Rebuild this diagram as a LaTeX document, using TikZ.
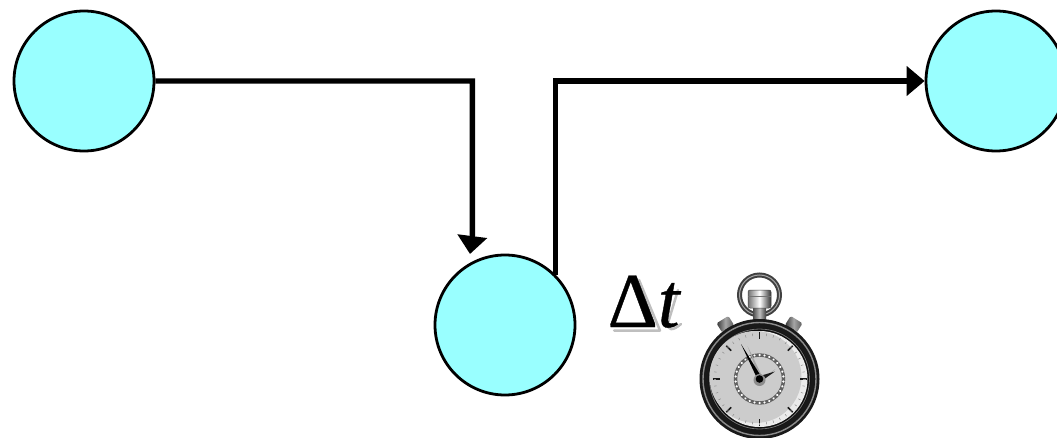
\documentclass[tikz,border=0pt]{standalone}
\usepackage{fontspec}
\setmainfont{Liberation Serif}
\newfontfamily\dtfont[FakeBold=0.5]{Liberation Serif}
\usetikzlibrary{arrows.meta,calc}
\definecolor{nodecyan}{HTML}{99FFFF}
\tikzset{
  stationnode/.style={circle,draw=black,line width=2.8pt,fill=nodecyan,minimum size=140pt,inner sep=0pt},
  flowline/.style={line width=5.4pt,draw=black,-{Triangle[length=18pt,width=29pt]}},
  deltatext/.style={inner sep=0pt,anchor=base west,font=\dtfont\fontsize{78pt}{78pt}\selectfont},
  dtshadow/.style={line width=2.5pt,black!25,line cap=round,line join=round},
  major/.style={line width=1.5pt,black!90},
  minor/.style={line width=0.5pt,black!45}
}
\begin{document}
\begin{tikzpicture}[x=1pt,y=-1pt]
\useasboundingbox (0,0) rectangle (1057,438);
\node[stationnode] (a) at (84,81) {};
\node[stationnode] (b) at (996,81) {};
\node[stationnode] (c) at (505,325) {};
\coordinate (e1) at (472.3,236);
\coordinate (e2) at (470,254);
\draw[flowline,line join=miter] (a.east) -| (e1) -- (e2);
\coordinate (s2) at (c.45);
\draw[flowline,line join=miter] (s2) |- (b.west);
% soft shadow of the delta t, drawn as shapes
\draw[dtshadow] (639,280) -- (660,330.5) -- (614,330.5);
\draw[dtshadow] (678,290) -- (668,323) .. controls (667,331) and (673,331) .. (681,324);
\node[deltatext] (dt) at (607.5,327) {Δ\textit{t}};
% stopwatch
\begin{scope}[shift={(759.5,379)}]
  % ring
  \draw[line width=5pt,black!75] (0,-84) circle (20);
  \draw[line width=1pt,black!35] (0,-84) circle (20);
  % stem and crown
  \shade[left color=black!70,right color=black!75,middle color=black!25] (-6.5,-72) rectangle (6.5,-56);
  \shade[left color=black!55,right color=black!80,middle color=white,draw=black!75,line width=.5pt,rounded corners=2pt] (-11.5,-89) rectangle (11.5,-71);
  \fill[black!55] (-11.5,-83) rectangle (11.5,-82);
  % side buttons
  \foreach \a in {-32,32}{
    \begin{scope}[rotate=\a]
      \shade[left color=black!80,right color=black!65,middle color=black!35,rounded corners=1.5pt] (-7,-70) rectangle (7,-59);
      \fill[black!75] (-3,-60) rectangle (3,-56);
    \end{scope}
  }
  % case
  \fill[black!90] (0,0) circle (60);
  \draw[line width=1.4pt,black!45] (0,0) circle (56.5);
  \fill[black!95] (0,0) circle (51);
  \draw[line width=.8pt,black!55] (0,0) circle (50);
  \fill[black!8] (0,0) circle (48);
  \fill[black!20] (-4,-2) circle (46);
  % ticks
  \foreach \a in {0,45,...,315}{\draw[major,rotate=\a] (0,-47) -- (0,-40);}
  \foreach \a in {9,18,...,351}{\draw[minor,rotate=\a] (0,-46) -- (0,-43.5);}
  % inner dial
  \draw[line width=3.4pt,black!62] (0,0) circle (24);
  \foreach \a in {0,12,...,348}{\fill[white,rotate=\a] (0,-24) circle (1.25);}
  % hand shadows
  \fill[black!35] (0,0) -- (-12,-33) -- (3,-2) -- cycle;
  \fill[black!35] (2,0) -- (16,-10) -- (2,3) -- cycle;
  % hands
  \fill[black] (-2.6,-1) -- (-18.5,-35) -- (2.6,-1) -- cycle;
  \fill[black!90] (-1,-2.6) -- (15.5,-7.5) -- (1,2.6) -- cycle;
  \fill[black!45] (0,1) circle (6);
  \fill[black] (0,0) circle (3.8);
\end{scope}
\end{tikzpicture}
\end{document}
